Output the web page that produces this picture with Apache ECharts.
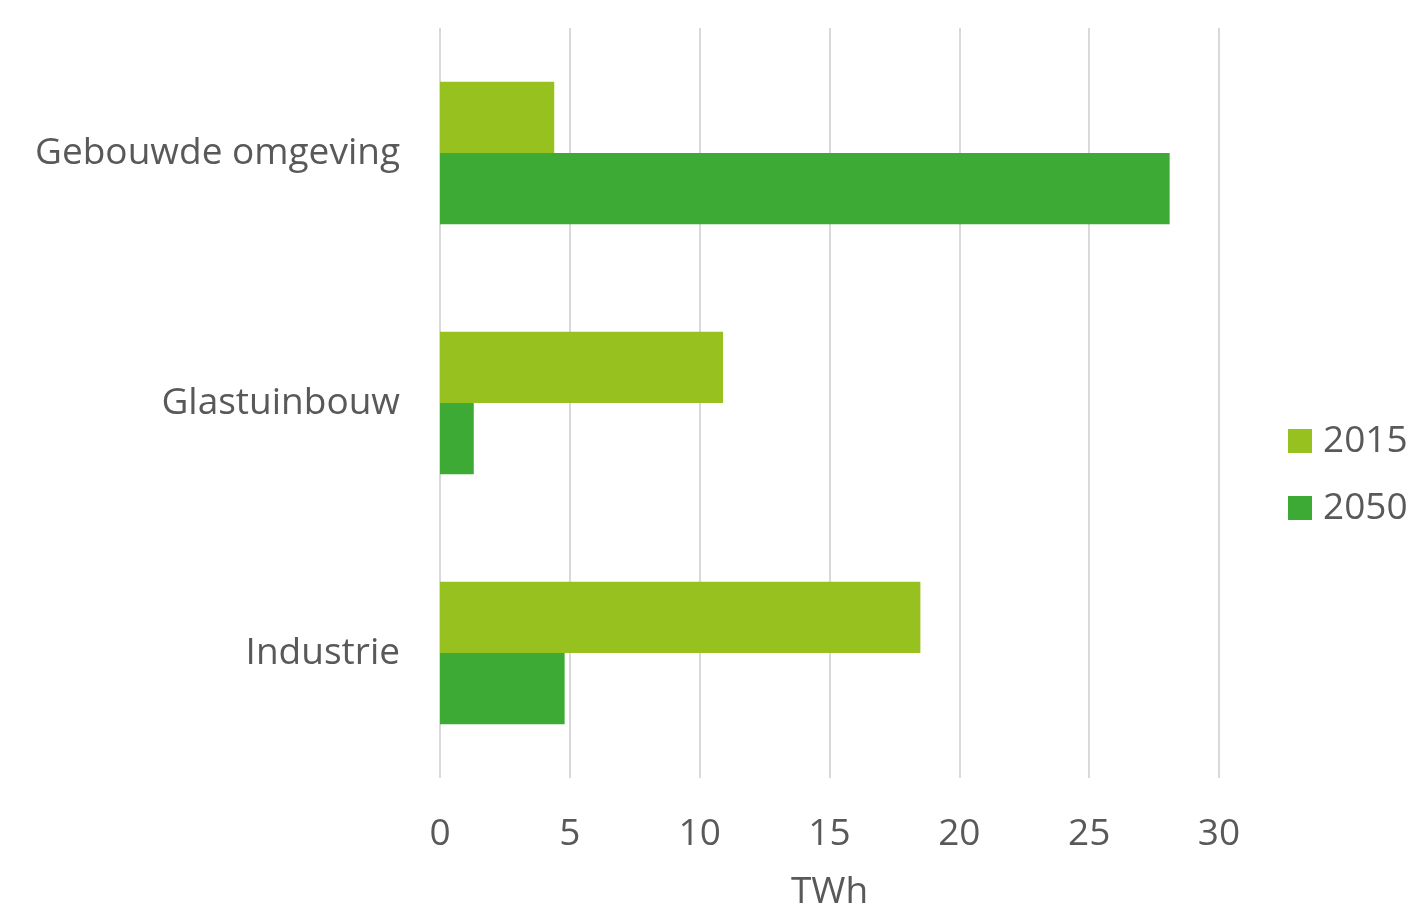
<!DOCTYPE html>
<html>
<head>
<meta charset="utf-8">
<script src="https://cdn.jsdelivr.net/npm/echarts@6/dist/echarts.min.js"></script>
<style>
  html, body { margin: 0; padding: 0; background: #ffffff; }
  #chart { width: 1415px; height: 905px; }
</style>
</head>
<body>
<div id="chart"></div>
<script>
// Sectors shown top to bottom
const categories = ['Gebouwde omgeving', 'Glastuinbouw', 'Industrie'];
const seriesNames = ['2015', '2050'];
const values2015 = [4.4, 10.9, 18.5];
const values2050 = [28.1, 1.3, 4.8];
const xTicks = [0, 5, 10, 15, 20, 25, 30];

const FONT = '"Open Sans", "Noto Sans", sans-serif';
const TEXT = '#595959';
const FS = 37;
const colors = ['#97C11F', '#3DAA35'];

const chart = echarts.init(document.getElementById('chart'), null, { renderer: 'canvas' });

chart.setOption({
  animation: false,
  backgroundColor: '#ffffff',
  textStyle: { fontFamily: FONT, color: TEXT },
  grid: {
    left: 440, right: 196, top: 28, bottom: 127,
    containLabel: false,
    outerBoundsMode: 'none'
  },
  legend: {
    orient: 'vertical',
    left: 1288,
    top: 421,
    padding: 0,
    itemWidth: 24,
    itemHeight: 24,
    itemGap: 27,
    icon: 'rect',
    data: seriesNames,
    textStyle: {
      fontFamily: FONT, fontSize: FS, color: TEXT,
      lineHeight: 40, padding: [0, 0, 0, 6]
    }
  },
  xAxis: {
    type: 'value',
    min: xTicks[0],
    max: xTicks[xTicks.length - 1],
    interval: 5,
    name: 'TWh',
    nameLocation: 'middle',
    nameGap: 96,
    nameTextStyle: { fontFamily: FONT, fontSize: FS, color: TEXT },
    axisLine: { show: false },
    axisTick: { show: false },
    axisLabel: { fontFamily: FONT, fontSize: FS, color: TEXT, margin: 38 },
    splitLine: { show: true, lineStyle: { color: '#d9d9d9', width: 2 } }
  },
  yAxis: {
    type: 'category',
    inverse: true,
    data: categories,
    axisLine: { show: false },
    axisTick: { show: false },
    axisLabel: { fontFamily: FONT, fontSize: FS, color: TEXT, margin: 40 }
  },
  series: [
    {
      name: seriesNames[0],
      type: 'bar',
      data: values2015,
      barGap: '0%',
      barCategoryGap: '43%',
      itemStyle: { color: colors[0] }
    },
    {
      name: seriesNames[1],
      type: 'bar',
      data: values2050,
      barGap: '0%',
      barCategoryGap: '43%',
      itemStyle: { color: colors[1] }
    }
  ]
});
</script>
</body>
</html>
